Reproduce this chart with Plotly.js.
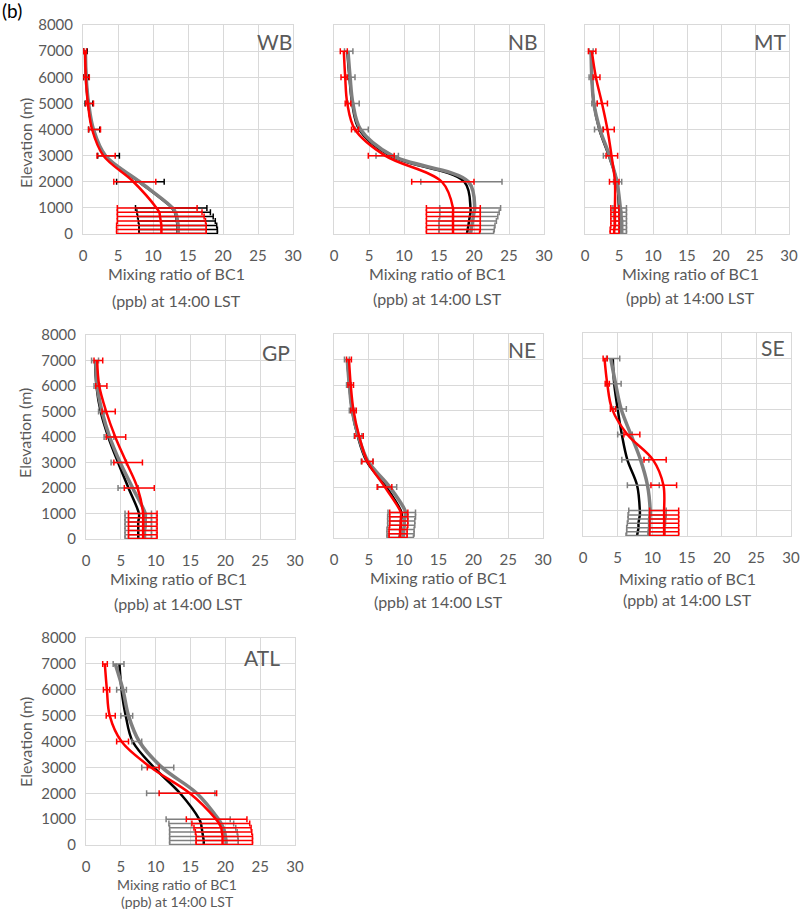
<!DOCTYPE html>
<html>
<head>
<meta charset="utf-8">
<script src="https://cdn.plot.ly/plotly-3.0.1.min.js"></script>
<style>html,body{margin:0;padding:0;background:#fff;}#chart{width:800px;height:911px;}</style>
</head>
<body>
<div id="chart"></div>
<script>
// ---------------- DATA ----------------
const levels = [7000, 6000, 5000, 4000, 3000, 2000, 1000, 830, 670, 500, 330, 170, 20];
const xTicks = [0, 5, 10, 15, 20, 25, 30];
const yTicks = [0, 1000, 2000, 3000, 4000, 5000, 6000, 7000, 8000];
const panelNames = ["WB", "NB", "MT", "GP", "NE", "SE", "ATL"];

// WB
const wbBlack = [0.35, 0.45, 0.75, 1.4, 3.1, 8.0, 12.7, 13.1, 13.3, 13.4, 13.5, 13.5, 13.5];
const wbGray  = [0.35, 0.45, 0.8, 1.5, 3.2, 8.1, 12.8, 13.2, 13.4, 13.5, 13.6, 13.6, 13.6];
const wbRed   = [0.3, 0.4, 0.7, 1.3, 2.9, 7.2, 10.5, 10.9, 11.0, 11.1, 11.2, 11.2, 11.2];
const wbRedLo = [0.1, 0.0, 0.4, 0.8, 2.0, 4.4, 4.9, 4.9, 4.9, 4.9, 4.8, 4.8, 4.8];
const wbRedHi = [0.5, 0.9, 1.5, 2.5, 4.6, 10.4, 16.3, 17.0, 17.3, 17.5, 17.6, 17.6, 17.6];
const wbBarLo = [0.1, 0.1, 0.3, 0.8, 2.1, 4.8, 7.5, 7.7, 7.8, 7.9, 8.0, 8.0, 8.0];
const wbBarHi = [0.6, 0.8, 1.4, 2.4, 5.2, 11.6, 17.7, 18.2, 18.6, 18.9, 19.1, 19.2, 19.2];

// NB
const nbBlack = [1.9, 2.2, 2.6, 3.6, 8.0, 18.6, 19.5, 19.5, 19.4, 19.3, 19.2, 19.1, 19.0];
const nbGray  = [2.0, 2.3, 2.7, 3.8, 8.3, 19.2, 20.1, 20.0, 19.9, 19.8, 19.7, 19.6, 19.5];
const nbRed   = [1.4, 1.6, 1.9, 3.0, 7.3, 15.4, 17.0, 17.0, 17.0, 17.0, 17.0, 17.0, 17.0];
const nbRedLo = [0.9, 1.0, 1.6, 2.5, 4.9, 11.1, 13.2, 13.2, 13.2, 13.2, 13.2, 13.2, 13.2];
const nbRedHi = [1.9, 1.9, 2.4, 3.5, 8.6, 20.0, 20.9, 20.9, 20.9, 20.9, 20.9, 20.9, 20.8];
const nbBarLo = [1.5, 1.7, 2.0, 3.0, 6.0, 12.4, 15.1, 15.1, 15.1, 15.0, 15.0, 15.0, 15.0];
const nbBarHi = [2.7, 3.0, 3.6, 4.9, 9.2, 24.0, 23.8, 23.6, 23.4, 23.2, 23.0, 22.9, 22.8];

// MT
const mtBlack = [0.9, 1.0, 1.3, 2.1, 3.5, 4.7, 5.0, 5.1, 5.1, 5.2, 5.2, 5.2, 5.2];
const mtGray  = [0.9, 1.0, 1.3, 2.2, 3.6, 4.7, 5.2, 5.3, 5.3, 5.4, 5.4, 5.4, 5.4];
const mtRed   = [1.0, 1.6, 2.5, 3.3, 3.9, 4.4, 4.4, 4.4, 4.4, 4.4, 4.4, 4.3, 4.3];
const mtRedLo = [0.5, 1.2, 1.8, 2.7, 3.1, 3.6, 3.8, 3.8, 3.8, 3.8, 3.8, 3.7, 3.7];
const mtRedHi = [1.6, 2.2, 3.3, 4.3, 4.8, 5.0, 5.0, 5.0, 5.0, 5.0, 5.0, 5.0, 5.0];
const mtBarLo = [0.6, 0.6, 1.0, 1.4, 2.7, 4.2, 4.1, 4.2, 4.2, 4.3, 4.3, 4.3, 4.3];
const mtBarHi = [1.2, 1.5, 1.8, 2.6, 3.8, 5.4, 6.1, 6.1, 6.1, 6.1, 6.1, 6.1, 6.1];

// GP
const gpBlack = [1.3, 1.5, 2.1, 3.2, 4.6, 6.1, 7.6, 7.6, 7.5, 7.5, 7.5, 7.5, 7.5];
const gpGray  = [1.4, 1.6, 2.3, 3.4, 4.9, 6.7, 8.5, 8.5, 8.5, 8.5, 8.4, 8.4, 8.4];
const gpRed   = [1.6, 1.9, 2.9, 4.2, 5.8, 7.4, 8.2, 8.2, 8.2, 8.2, 8.2, 8.2, 8.2];
const gpRedLo = [1.15, 1.4, 2.3, 2.9, 4.0, 5.5, 6.1, 6.1, 6.1, 6.1, 6.1, 6.1, 6.1];
const gpRedHi = [2.4, 3.0, 4.2, 5.7, 8.1, 9.8, 10.2, 10.2, 10.2, 10.2, 10.2, 10.2, 10.2];
const gpBarLo = [0.8, 1.15, 1.8, 2.6, 3.6, 4.6, 5.6, 5.6, 5.6, 5.6, 5.6, 5.6, 5.6];
const gpBarHi = [1.8, 2.0, 2.7, 4.0, 5.8, 7.5, 9.4, 9.4, 9.4, 9.4, 9.4, 9.4, 9.4];

// NE
const neBlack = [1.9, 2.2, 2.6, 3.4, 4.7, 7.5, 9.7, 9.7, 9.6, 9.6, 9.5, 9.5, 9.4];
const neGray  = [1.9, 2.2, 2.6, 3.5, 4.9, 8.0, 10.3, 10.2, 10.1, 10.1, 10.0, 10.0, 9.9];
const neRed   = [2.15, 2.4, 2.8, 3.6, 4.8, 7.3, 9.6, 9.6, 9.6, 9.6, 9.5, 9.5, 9.5];
const neRedLo = [1.8, 2.0, 2.4, 3.0, 4.0, 6.2, 8.0, 8.0, 8.0, 8.0, 7.9, 7.9, 7.9];
const neRedHi = [2.5, 2.8, 3.2, 4.2, 5.6, 8.3, 10.6, 10.6, 10.6, 10.6, 10.5, 10.5, 10.5];
const neBarLo = [1.5, 1.8, 2.2, 2.9, 3.9, 6.3, 7.75, 7.7, 7.7, 7.7, 7.6, 7.6, 7.6];
const neBarHi = [2.2, 2.5, 3.0, 4.0, 5.6, 9.0, 11.7, 11.7, 11.6, 11.6, 11.5, 11.5, 11.4];

// SE
const seBlack = [4.3, 4.5, 5.0, 5.6, 6.4, 7.8, 8.2, 8.2, 8.1, 8.0, 8.0, 7.9, 7.8];
const seGray  = [4.0, 4.7, 5.5, 6.9, 8.3, 9.3, 9.7, 9.7, 9.6, 9.6, 9.6, 9.5, 9.5];
const seRed   = [3.1, 3.5, 4.2, 6.4, 10.1, 11.6, 11.7, 11.7, 11.7, 11.7, 11.7, 11.7, 11.7];
const seRedLo = [2.9, 3.2, 3.95, 5.9, 8.8, 9.8, 9.6, 9.6, 9.6, 9.6, 9.6, 9.6, 9.6];
const seRedHi = [3.5, 3.8, 4.7, 8.2, 12.0, 13.5, 13.8, 13.8, 13.8, 13.8, 13.8, 13.8, 13.8];
const seBarLo = [3.4, 3.4, 4.4, 5.0, 5.6, 6.4, 6.6, 6.5, 6.5, 6.4, 6.3, 6.3, 6.2];
const seBarHi = [5.3, 5.5, 6.25, 7.1, 9.5, 11.0, 12.0, 12.0, 11.9, 11.9, 11.8, 11.8, 11.8];

// ATL
const atlBlack = [4.8, 5.1, 5.7, 6.7, 9.75, 13.5, 16.25, 16.5, 16.6, 16.7, 16.8, 16.9, 16.9];
const atlGray  = [4.2, 5.3, 6.1, 7.65, 10.9, 15.9, 19.0, 19.4, 19.7, 19.9, 20.0, 20.1, 20.1];
const atlRed   = [2.7, 3.0, 3.4, 5.1, 9.3, 14.9, 18.65, 19.1, 19.4, 19.5, 19.6, 19.6, 19.6];
const atlRedLo = [2.4, 2.5, 2.9, 4.4, 8.8, 10.5, 14.4, 15.2, 15.5, 15.7, 15.8, 15.8, 15.8];
const atlRedHi = [3.06, 3.4, 4.2, 6.1, 10.5, 18.75, 23.1, 23.5, 23.7, 23.8, 23.9, 23.9, 23.9];
const atlBarLo = [3.9, 4.4, 5.0, 6.6, 8.0, 8.7, 11.5, 11.9, 12.0, 12.0, 12.0, 12.0, 12.0];
const atlBarHi = [5.45, 5.8, 6.7, 8.0, 12.6, 18.5, 20.7, 21.2, 21.5, 21.7, 21.8, 21.85, 21.85];

// ---------------- LAYOUT CONFIG (pixels) ----------------
const W = 800, H = 911;
const FONT = "Lato, 'Open Sans', sans-serif";
const TXT = "#595959";
const boxes = [
  {l: 83, r: 293, t: 25, b: 234},
  {l: 334, r: 544, t: 25, b: 234},
  {l: 585, r: 789, t: 25, b: 234},
  {l: 86, r: 295, t: 335, b: 539},
  {l: 334, r: 543, t: 334, b: 538},
  {l: 583, r: 791, t: 333, b: 536},
  {l: 86, r: 295, t: 638, b: 845}
];
const titleX = [176, 437, 690, 178, 439, 687, 177];
const title1Y = [273, 273, 273, 578, 577, 578, 884];
const title2Y = [300, 298, 297, 603, 601, 599, 901];
const titleSize = [16, 16, 16, 16, 16, 16, 14];
const labelR = [294, 540, 788, 292, 538, 787, 282];
const labelY = [42, 42, 42, 352, 349, 348, 657];
const yTitle = {x: 25, ys: {0: 143, 3: 433, 6: 742}};

const series = [
  {b: wbBlack, g: wbGray, r: wbRed, rl: wbRedLo, rh: wbRedHi, bl: wbBarLo, bh: wbBarHi, on: "black"},
  {b: nbBlack, g: nbGray, r: nbRed, rl: nbRedLo, rh: nbRedHi, bl: nbBarLo, bh: nbBarHi, on: "gray"},
  {b: mtBlack, g: mtGray, r: mtRed, rl: mtRedLo, rh: mtRedHi, bl: mtBarLo, bh: mtBarHi, on: "gray"},
  {b: gpBlack, g: gpGray, r: gpRed, rl: gpRedLo, rh: gpRedHi, bl: gpBarLo, bh: gpBarHi, on: "gray"},
  {b: neBlack, g: neGray, r: neRed, rl: neRedLo, rh: neRedHi, bl: neBarLo, bh: neBarHi, on: "gray"},
  {b: seBlack, g: seGray, r: seRed, rl: seRedLo, rh: seRedHi, bl: seBarLo, bh: seBarHi, on: "gray"},
  {b: atlBlack, g: atlGray, r: atlRed, rl: atlRedLo, rh: atlRedHi, bl: atlBarLo, bh: atlBarHi, on: "gray"}
];

const fx = p => p / W;
const fy = p => 1 - p / H;

function errBar(c, lo, hi, color) {
  return {
    type: "data", symmetric: false,
    array: hi.map((h, i) => h - c[i]),
    arrayminus: lo.map((l, i) => c[i] - l),
    color: color, thickness: 1.5, width: 3
  };
}

const traces = [];
const layout = {
  width: W, height: H,
  margin: {l: 0, r: 0, t: 0, b: 0},
  paper_bgcolor: "#ffffff", plot_bgcolor: "#ffffff",
  showlegend: false,
  font: {family: FONT, color: TXT, size: 15},
  annotations: []
};

series.forEach((s, i) => {
  const n = i + 1;
  const xa = "x" + (n === 1 ? "" : n), ya = "y" + (n === 1 ? "" : n);
  const bx = boxes[i];
  const common = {x: null, y: levels, mode: "lines", xaxis: xa, yaxis: ya, hoverinfo: "skip"};
  traces.push(Object.assign({}, common, {
    x: s.b, line: {color: "#000000", width: 2.5, shape: "spline", smoothing: 1},
    error_x: s.on === "black" ? errBar(s.b, s.bl, s.bh, "#000000") : {visible: false}
  }));
  traces.push(Object.assign({}, common, {
    x: s.g, line: {color: "#7f7f7f", width: 3.5, shape: "spline", smoothing: 1},
    error_x: s.on === "gray" ? errBar(s.g, s.bl, s.bh, "#7f7f7f") : {visible: false}
  }));
  traces.push(Object.assign({}, common, {
    x: s.r, line: {color: "#ff0000", width: 2.5, shape: "spline", smoothing: 1},
    error_x: errBar(s.r, s.rl, s.rh, "#ff0000")
  }));

  const showY = (i % 3 === 0);
  layout["xaxis" + (n === 1 ? "" : n)] = {
    domain: [fx(bx.l), fx(bx.r)], anchor: ya,
    range: [0, 30], tickvals: xTicks, ticktext: xTicks.map(String),
    showgrid: true, gridcolor: "#d9d9d9", gridwidth: 1,
    zeroline: false, showline: true, mirror: true, linecolor: "#d9d9d9", linewidth: 1,
    ticks: "", ticklabelstandoff: 8,
    tickfont: {family: FONT, size: 15, color: TXT}, fixedrange: true
  };
  layout["yaxis" + (n === 1 ? "" : n)] = {
    domain: [fy(bx.b), fy(bx.t)], anchor: xa,
    range: [0, 8000], tickvals: yTicks, ticktext: yTicks.map(String),
    showticklabels: showY,
    showgrid: true, gridcolor: "#d9d9d9", gridwidth: 1,
    zeroline: false, showline: true, mirror: true, linecolor: "#d9d9d9", linewidth: 1,
    ticks: "", ticklabelstandoff: 6,
    tickfont: {family: FONT, size: 15, color: TXT}, fixedrange: true
  };

  layout.annotations.push({
    xref: "paper", yref: "paper", x: fx(titleX[i]), y: fy(title1Y[i]),
    xanchor: "center", yanchor: "middle", showarrow: false, borderpad: 0,
    text: "Mixing ratio of BC1", font: {family: FONT, size: titleSize[i], color: TXT}
  });
  layout.annotations.push({
    xref: "paper", yref: "paper", x: fx(titleX[i]), y: fy(title2Y[i]),
    xanchor: "center", yanchor: "middle", showarrow: false, borderpad: 0,
    text: "(ppb) at 14:00 LST", font: {family: FONT, size: titleSize[i], color: TXT}
  });
  layout.annotations.push({
    xref: "paper", yref: "paper", x: fx(labelR[i]), y: fy(labelY[i]),
    xanchor: "right", yanchor: "middle", showarrow: false,
    text: panelNames[i], font: {family: FONT, size: 21, color: TXT}
  });
  if (showY) {
    layout.annotations.push({
      xref: "paper", yref: "paper", x: fx(yTitle.x), y: fy(yTitle.ys[i]),
      xanchor: "center", yanchor: "middle", showarrow: false, textangle: -90,
      text: "Elevation (m)", font: {family: FONT, size: 16, color: TXT}
    });
  }
});

layout.annotations.push({
  xref: "paper", yref: "paper", x: 0, y: fy(10),
  xanchor: "left", yanchor: "middle", showarrow: false,
  text: "(b)", font: {family: FONT, size: 19, color: "#000000"}
});

Plotly.newPlot("chart", traces, layout, {displayModeBar: false, staticPlot: true});
</script>
</body>
</html>
